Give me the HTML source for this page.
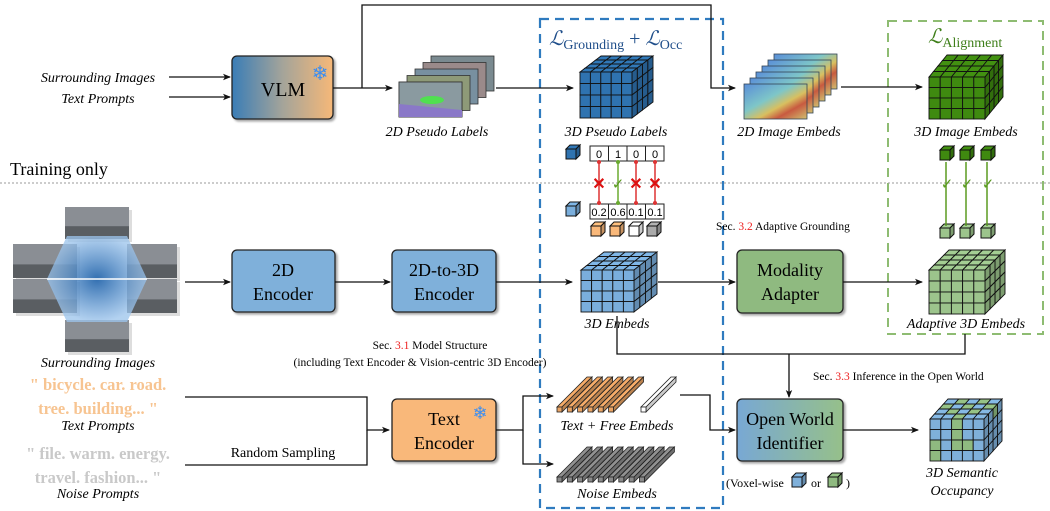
<!DOCTYPE html>
<html><head><meta charset="utf-8">
<style>
html,body{margin:0;padding:0;background:#fff;}
svg{display:block;font-family:"Liberation Serif",serif;}
.it{font-style:italic;}
</style></head>
<body>
<svg id="s" width="1050" height="511" viewBox="0 0 1050 511" xmlns="http://www.w3.org/2000/svg">
<defs>
<marker id="ar" markerWidth="8" markerHeight="8" refX="7" refY="4" orient="auto" markerUnits="userSpaceOnUse"><path d="M0,0.8 L8,4 L0,7.2 L2,4z" fill="#111"/></marker>
<linearGradient id="gvlm" x1="0" x2="1"><stop offset="0" stop-color="#3a7db6"/><stop offset="0.5" stop-color="#a4a49a"/><stop offset="1" stop-color="#f6b878"/></linearGradient>
<linearGradient id="gow" x1="0" x2="1"><stop offset="0" stop-color="#78a8d4"/><stop offset="1" stop-color="#96c08a"/></linearGradient>
<linearGradient id="heat" x1="0" y1="0" x2="1" y2="1"><stop offset="0" stop-color="#5a8ed8"/><stop offset="0.4" stop-color="#7ec6c8"/><stop offset="0.6" stop-color="#d8c060"/><stop offset="0.75" stop-color="#c85a40"/><stop offset="1" stop-color="#d0c070"/></linearGradient>
<radialGradient id="hex" cx="0.5" cy="0.5" r="0.5"><stop offset="0" stop-color="#1b5fa8"/><stop offset="1" stop-color="#9cc4ec" stop-opacity="0.85"/></radialGradient>
<filter id="sh" x="-10%" y="-10%" width="125%" height="125%"><feDropShadow dx="2" dy="2" stdDeviation="1" flood-color="#000" flood-opacity="0.35"/></filter>
</defs>
<g id="g"></g>

<rect x="540" y="19" width="183" height="489" fill="none" stroke="#2f7bbf" stroke-width="2.2" stroke-dasharray="9,6"/>
<rect x="888" y="21" width="155" height="313" fill="none" stroke="#8ebc72" stroke-width="2" stroke-dasharray="9,6"/>
<line x1="0" y1="183" x2="1050" y2="183" stroke="#999" stroke-width="1" stroke-dasharray="2,2"/>
<text x="10" y="175" font-size="18">Training only</text>

<text x="549" y="45" font-size="20" fill="#1f4e8a" class="it">ℒ<tspan font-size="14" font-style="normal" dy="4">Grounding</tspan><tspan dy="-4" font-style="normal" font-size="20"> + </tspan>ℒ<tspan font-size="14" font-style="normal" dy="4">Occ</tspan></text>
<text x="928" y="43" font-size="20" fill="#3f7f1a" class="it">ℒ<tspan font-size="14" font-style="normal" dy="4">Alignment</tspan></text>

<text x="98" y="82" font-size="14" class="it" text-anchor="middle">Surrounding Images</text>
<text x="98" y="103" font-size="14" class="it" text-anchor="middle">Text Prompts</text>
<line x1="169" y1="77" x2="230" y2="77" stroke="#111" stroke-width="1.3" marker-end="url(#ar)"/>
<line x1="169" y1="97" x2="230" y2="97" stroke="#111" stroke-width="1.3" marker-end="url(#ar)"/>
<rect x="232" y="56" width="101" height="63" rx="5" fill="url(#gvlm)" stroke="#222" stroke-width="1.3" filter="url(#sh)"/>
<text x="283" y="96" font-size="20" text-anchor="middle">VLM</text>
<text x="320" y="80" font-size="20" fill="#3d8ef0" text-anchor="middle">❄</text>

<polyline points="333,88 362,88" fill="none" stroke="#111" stroke-width="1.3"/>
<line x1="362" y1="88" x2="392" y2="88" stroke="#111" stroke-width="1.3" marker-end="url(#ar)"/>
<polyline points="362,88 362,5 711,5 711,88 735,88" fill="none" stroke="#111" stroke-width="1.3" marker-end="url(#ar)"/>
<line x1="496" y1="88" x2="573" y2="88" stroke="#111" stroke-width="1.3" marker-end="url(#ar)"/>
<line x1="841" y1="87" x2="922" y2="87" stroke="#111" stroke-width="1.3" marker-end="url(#ar)"/>

<text x="437" y="136" font-size="14" class="it" text-anchor="middle">2D Pseudo Labels</text>
<text x="616" y="136" font-size="14" class="it" text-anchor="middle">3D Pseudo Labels</text>
<text x="789" y="136" font-size="14" class="it" text-anchor="middle">2D Image Embeds</text>
<text x="966" y="136" font-size="14" class="it" text-anchor="middle">3D Image Embeds</text>

<g font-size="11" font-family="Liberation Sans, sans-serif" text-anchor="middle">
<rect x="590" y="146" width="74" height="15" fill="#fff" stroke="#222"/>
<line x1="608.5" y1="146" x2="608.5" y2="161" stroke="#222"/><line x1="627" y1="146" x2="627" y2="161" stroke="#222"/><line x1="645.5" y1="146" x2="645.5" y2="161" stroke="#222"/>
<text x="599" y="158">0</text><text x="618" y="158">1</text><text x="636" y="158">0</text><text x="655" y="158">0</text>
<rect x="590" y="204" width="74" height="15" fill="#fff" stroke="#222"/>
<line x1="608.5" y1="204" x2="608.5" y2="219" stroke="#222"/><line x1="627" y1="204" x2="627" y2="219" stroke="#222"/><line x1="645.5" y1="204" x2="645.5" y2="219" stroke="#222"/>
<text x="599" y="216">0.2</text><text x="618" y="216">0.6</text><text x="636" y="216">0.1</text><text x="655" y="216">0.1</text>
</g>
<g stroke-width="1.5">
<line x1="599" y1="162" x2="599" y2="203" stroke="#d33"/><line x1="618" y1="162" x2="618" y2="203" stroke="#6aaa30"/>
<line x1="636" y1="162" x2="636" y2="203" stroke="#d33"/><line x1="655" y1="162" x2="655" y2="203" stroke="#d33"/>
</g>
<g fill="#d33"><circle cx="599" cy="162" r="2"/><circle cx="599" cy="203" r="2"/><circle cx="636" cy="162" r="2"/><circle cx="636" cy="203" r="2"/><circle cx="655" cy="162" r="2"/><circle cx="655" cy="203" r="2"/></g>
<g fill="#6aaa30"><circle cx="618" cy="162" r="2"/><circle cx="618" cy="203" r="2"/></g>
<g font-size="16" font-weight="bold" font-family="Liberation Sans, sans-serif" text-anchor="middle" fill="#d11">
<text x="599" y="189">✕</text><text x="636" y="189">✕</text><text x="655" y="189">✕</text></g>
<text x="618" y="189" font-size="15" fill="#5a9a20" text-anchor="middle" font-family="DejaVu Sans">✓</text>
<g fill="#5a9a20" font-size="15" text-anchor="middle" font-family="DejaVu Sans"><text x="947" y="189">✓</text><text x="967" y="189">✓</text><text x="988" y="189">✓</text></g>
<g stroke="#5a9a20" stroke-width="1.5"><line x1="946" y1="162" x2="946" y2="226"/><line x1="966" y1="162" x2="966" y2="226"/><line x1="987" y1="162" x2="987" y2="226"/></g>

<text x="716" y="230" font-size="11.5">Sec. <tspan fill="#e22">3.2</tspan> Adaptive Grounding</text>

<line x1="185" y1="282" x2="230" y2="282" stroke="#111" stroke-width="1.3" marker-end="url(#ar)"/>
<rect x="232" y="250" width="103" height="62" rx="5" fill="#7fb0da" stroke="#222" stroke-width="1.3" filter="url(#sh)"/>
<text x="283" y="276" font-size="18" text-anchor="middle">2D</text><text x="283" y="300" font-size="18" text-anchor="middle">Encoder</text>
<line x1="335" y1="282" x2="390" y2="282" stroke="#111" stroke-width="1.3" marker-end="url(#ar)"/>
<rect x="392" y="250" width="104" height="62" rx="5" fill="#7fb0da" stroke="#222" stroke-width="1.3" filter="url(#sh)"/>
<text x="444" y="276" font-size="18" text-anchor="middle">2D-to-3D</text><text x="444" y="300" font-size="18" text-anchor="middle">Encoder</text>
<line x1="496" y1="282" x2="572" y2="282" stroke="#111" stroke-width="1.3" marker-end="url(#ar)"/>
<line x1="658" y1="282" x2="735" y2="282" stroke="#111" stroke-width="1.3" marker-end="url(#ar)"/>
<rect x="737" y="250" width="106" height="63" rx="5" fill="#8fba80" stroke="#222" stroke-width="1.3" filter="url(#sh)"/>
<text x="790" y="276" font-size="18" text-anchor="middle">Modality</text><text x="790" y="300" font-size="18" text-anchor="middle">Adapter</text>
<line x1="843" y1="282" x2="922" y2="282" stroke="#111" stroke-width="1.3" marker-end="url(#ar)"/>
<text x="617" y="328" font-size="14" class="it" text-anchor="middle">3D Embeds</text>
<text x="966" y="328" font-size="14" class="it" text-anchor="middle">Adaptive 3D Embeds</text>

<polyline points="617,316 617,354 965,354 965,334" fill="none" stroke="#111" stroke-width="1.3"/>
<line x1="789" y1="354" x2="789" y2="397" stroke="#111" stroke-width="1.3" marker-end="url(#ar)"/>
<text x="813" y="380" font-size="11.5">Sec. <tspan fill="#e22">3.3</tspan> Inference in the Open World</text>

<text x="430" y="349" font-size="11.5" text-anchor="middle">Sec. <tspan fill="#e22">3.1</tspan> Model Structure</text>
<text x="420" y="366" font-size="11.5" text-anchor="middle">(including Text Encoder &amp; Vision-centric 3D Encoder)</text>

<text x="98" y="367" font-size="14" class="it" text-anchor="middle">Surrounding Images</text>
<text x="98" y="390" font-size="16.5" font-weight="bold" fill="#f7c491" text-anchor="middle">" bicycle. car. road.</text>
<text x="98" y="414" font-size="16.5" font-weight="bold" fill="#f7c491" text-anchor="middle">tree. building... "</text>
<text x="98" y="430" font-size="14" class="it" text-anchor="middle">Text Prompts</text>
<text x="98" y="459" font-size="16.5" font-weight="bold" fill="#c9c9c9" text-anchor="middle">" file. warm. energy.</text>
<text x="98" y="483" font-size="16.5" font-weight="bold" fill="#c9c9c9" text-anchor="middle">travel. fashion... "</text>
<text x="98" y="498" font-size="14" class="it" text-anchor="middle">Noise Prompts</text>

<polyline points="185,397 367,397 367,430 389,430" fill="none" stroke="#111" stroke-width="1.3" marker-end="url(#ar)"/>
<polyline points="185,465 367,465 367,430" fill="none" stroke="#111" stroke-width="1.3"/>
<text x="283" y="457" font-size="14" text-anchor="middle">Random Sampling</text>
<rect x="392" y="399" width="104" height="62" rx="5" fill="#f9b87a" stroke="#222" stroke-width="1.3" filter="url(#sh)"/>
<text x="444" y="425" font-size="18" text-anchor="middle">Text</text><text x="444" y="449" font-size="18" text-anchor="middle">Encoder</text>
<text x="480" y="419" font-size="18" fill="#3d8ef0" text-anchor="middle">❄</text>
<polyline points="496,430 523,430 523,396 553,396" fill="none" stroke="#111" stroke-width="1.3" marker-end="url(#ar)"/>
<polyline points="523,430 523,464 553,464" fill="none" stroke="#111" stroke-width="1.3" marker-end="url(#ar)"/>
<text x="617" y="430" font-size="14" class="it" text-anchor="middle">Text + Free Embeds</text>
<text x="617" y="498" font-size="14" class="it" text-anchor="middle">Noise Embeds</text>

<polyline points="680,395 710,395 710,430 735,430" fill="none" stroke="#111" stroke-width="1.3" marker-end="url(#ar)"/>
<rect x="737" y="399" width="106" height="62" rx="5" fill="url(#gow)" stroke="#222" stroke-width="1.3" filter="url(#sh)"/>
<text x="790" y="425" font-size="18" text-anchor="middle">Open World</text><text x="790" y="449" font-size="18" text-anchor="middle">Identifier</text>
<line x1="843" y1="430" x2="918" y2="430" stroke="#111" stroke-width="1.3" marker-end="url(#ar)"/>
<text x="726" y="487" font-size="12">(Voxel-wise</text>
<text x="811" y="487" font-size="12">or</text>
<text x="846" y="487" font-size="12">)</text>
<text x="962" y="477" font-size="14" class="it" text-anchor="middle">3D Semantic</text>
<text x="962" y="495" font-size="14" class="it" text-anchor="middle">Occupancy</text>
</svg>
<script>
var NS="http://www.w3.org/2000/svg",G=document.getElementById('g');
function el(t,a){var e=document.createElementNS(NS,t);for(var k in a)e.setAttribute(k,a[k]);G.appendChild(e);return e;}
function shade(c,f){var r=parseInt(c.substr(1,2),16),g=parseInt(c.substr(3,2),16),b=parseInt(c.substr(5,2),16);return 'rgb('+Math.round(r*f)+','+Math.round(g*f)+','+Math.round(b*f)+')';}
function cube(x,y,w,h,cols,rows,dep,dx,dy,colfn,sw){
 sw=sw||0.9;var cw=w/cols,ch=h/rows,ddx=dx/dep,ddy=dy/dep;
 for(var d=dep-1;d>=0;d--)for(var i=0;i<cols;i++){var c=colfn(i,0,d);
  var x0=x+i*cw+d*ddx,y0=y-d*ddy;
  el('polygon',{points:[x0,y0,x0+cw,y0,x0+cw+ddx,y0-ddy,x0+ddx,y0-ddy].join(','),fill:shade(c,1.05),stroke:'#111','stroke-width':sw});}
 for(var d=dep-1;d>=0;d--)for(var j=0;j<rows;j++){var c=colfn(cols-1,j,d);
  var x0=x+w+d*ddx,y0=y+j*ch-d*ddy;
  el('polygon',{points:[x0,y0,x0+ddx,y0-ddy,x0+ddx,y0+ch-ddy,x0,y0+ch].join(','),fill:shade(c,0.8),stroke:'#111','stroke-width':sw});}
 for(var i=0;i<cols;i++)for(var j=0;j<rows;j++){
  el('rect',{x:x+i*cw,y:y+j*ch,width:cw,height:ch,fill:colfn(i,j,0),stroke:'#111','stroke-width':sw});}
}
function K(c){return function(){return c;};}
cube(580,72,52,46,5,4,4,21,16,K('#2f73b0'));
cube(581,270,53,42,5,4,4,23,18,K('#7aaedc'));
cube(929,77,56,42,5,4,4,18,22,K('#3f8a10'));
cube(929,270,56,44,5,4,4,20,20,K('#9cc48c'));
var occ=['bbgbb','bbgbb','gbggb','gbbbb'];
cube(930,419,54,42,5,4,4,18,20,function(i,j,d){if(j==0&&d>0)return ((i+d)%2)?'#7fb0da':'#8fba80';return occ[j][i]=='g'?'#8fba80':'#7fb0da';});
function sc(x,y,c){cube(x,y,10,10,1,1,1,4,4,K(c),1);}
sc(566,149,'#2f73b0');sc(566,206,'#7aaedc');
sc(591,226,'#f9b87a');sc(610,226,'#f9b87a');sc(629,226,'#ffffff');sc(647,226,'#aaaaaa');
sc(940,150,'#3f8a10');sc(960,150,'#3f8a10');sc(981,150,'#3f8a10');
sc(940,228,'#9cc48c');sc(960,228,'#9cc48c');sc(981,228,'#9cc48c');
sc(792,477,'#7fb0da');sc(828,477,'#8fba80');
function bar(x,yb,c){el('polygon',{points:[x,yb-5,x+30,yb-35,x+35,yb-35,x+5,yb-5].join(','),fill:shade(c,1.05),stroke:'#222','stroke-width':0.8});
 el('polygon',{points:[x+5,yb-5,x+35,yb-35,x+35,yb-30,x+5,yb].join(','),fill:shade(c,0.8),stroke:'#222','stroke-width':0.8});
 el('rect',{x:x,y:yb-5,width:5,height:5,fill:c,stroke:'#222','stroke-width':0.8});}
for(var i=0;i<6;i++)bar(557+i*10.3,412,'#eaa464');bar(641,412,'#ffffff');
for(var i=0;i<9;i++)bar(557+i*10.3,482,'#8a8a8a');
var pc=['#b0b8c0','#8e9a78','#7890a0','#9a8a8a','#7a8a90'];
for(var k=4;k>=0;k--){el('rect',{x:399+k*8,y:82-k*6.5,width:63,height:35,fill:pc[k],stroke:'#333','stroke-width':0.8});}
el('rect',{x:399,y:82,width:63,height:35,fill:'#8a9aa0',stroke:'#333','stroke-width':0.8});
el('polygon',{points:'399,104 462,110 462,117 399,117',fill:'#8a78c8'});
el('ellipse',{cx:432,cy:100,rx:12,ry:4,fill:'#50e050'});
for(var k=5;k>=0;k--){el('rect',{x:744+k*6,y:84-k*6,width:63,height:35,fill:'url(#heat)',stroke:'#345','stroke-width':0.8});}
var ims=[[65,207,64,32],[13,244,64,34],[13,279,64,34],[127,244,50,34],[127,279,50,34],[65,320,64,32]];
ims.forEach(function(r){el('rect',{x:r[0]+3,y:r[1]+3,width:r[2],height:r[3],fill:'#ddd'});el('rect',{x:r[0],y:r[1],width:r[2],height:r[3],fill:'#8a8e94'});el('rect',{x:r[0],y:r[1]+r[3]*0.6,width:r[2],height:r[3]*0.4,fill:'#5a5e62'});});
el('polygon',{points:'67,236 127,236 147,279 127,322 67,322 47,279',fill:'url(#hex)',opacity:0.9});
el('line',{x1:47,y1:279,x2:147,y2:279,stroke:'#fff','stroke-width':1.5});
</script>
</body></html>
